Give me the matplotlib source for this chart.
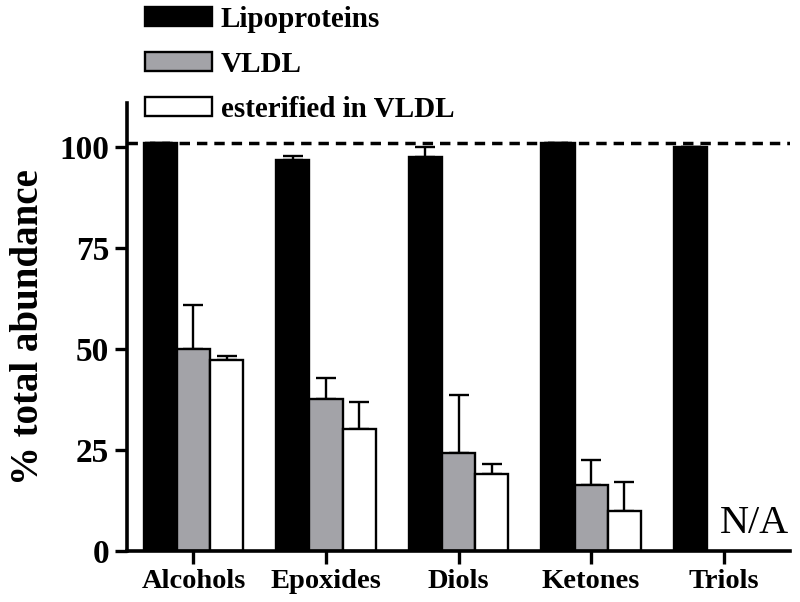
import numpy as np
import matplotlib
matplotlib.use('Agg')
import matplotlib.pyplot as plt

plt.rcParams['font.family'] = ['Liberation Serif', 'DejaVu Serif']
plt.rcParams['font.weight'] = 'bold'

# 数据
groups = ['Alcohols', 'Epoxides', 'Diols', 'Ketones', 'Triols']
series = ['Lipoproteins', 'VLDL', 'esterified in VLDL']
lipo = [101, 96.8, 97.5, 101, 100]
lipo_err = [0, 1.0, 2.5, 0, 0]
vldl = [50, 37.6, 24.4, 16.4, np.nan]
vldl_err = [11, 5.2, 14.2, 6.2, np.nan]
ester = [47.2, 30.2, 19.2, 9.8, np.nan]
ester_err = [1.0, 6.6, 2.3, 7.4, np.nan]
colors = ['black', '#a3a3a8', 'white']

fig = plt.figure(figsize=(8, 6.02), dpi=100)
ax = fig.add_axes([0.159, 0.0847, 0.8285, 0.7443])

x = np.arange(len(groups))
w = 0.25
vals = [lipo, vldl, ester]
errs = [lipo_err, vldl_err, ester_err]
for i in range(3):
    pos = x + (i - 1) * w
    v = np.array(vals[i], dtype=float)
    e = np.array(errs[i], dtype=float)
    ax.bar(pos, v, w, color=colors[i], edgecolor='black', linewidth=1.7,
           label=series[i], zorder=2)
    ok = ~np.isnan(v)
    ax.errorbar(pos[ok], v[ok], yerr=[np.zeros(ok.sum()), e[ok]], fmt='none',
                ecolor='black', elinewidth=1.7, capsize=7.5, capthick=1.7, zorder=1)

ax.axhline(101, color='black', linestyle=(0, (3, 2)), linewidth=2.5, zorder=3)

ax.text(4.49, 4.5, 'N/A', fontsize=29, fontweight='normal', ha='right', va='baseline')

ax.set_xlim(-0.5, 4.5)
ax.set_ylim(0, 111)
ax.set_yticks([0, 25, 50, 75, 100])
ax.set_xticks(x)
ax.set_xticklabels(groups, fontsize=20.5, fontweight='bold')
for t in ax.get_yticklabels():
    t.set_fontsize(24)
    t.set_fontweight('bold')
ax.set_ylabel('% total abundance', fontsize=28, fontweight='bold', labelpad=9)

for s in ['top', 'right']:
    ax.spines[s].set_visible(False)
for s in ['left', 'bottom']:
    ax.spines[s].set_linewidth(2.6)
ax.tick_params(width=2.4, length=9, pad=4)

fig.legend(loc='upper left', bbox_to_anchor=(145 / 800, 1 - 6 / 602), frameon=False,
           handlelength=2.3, handleheight=0.62, handletextpad=0.3,
           labelspacing=0.62, borderpad=0, borderaxespad=0,
           prop={'weight': 'bold', 'size': 21})

fig.savefig('out.png', dpi=100)
